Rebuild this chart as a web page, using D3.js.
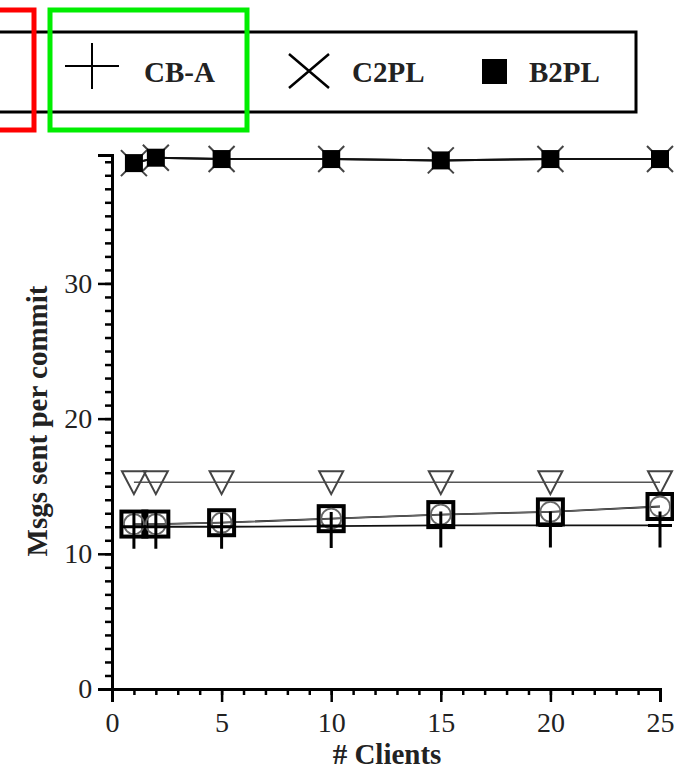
<!DOCTYPE html>
<html><head><meta charset="utf-8">
<script src="https://cdn.jsdelivr.net/npm/d3@7"></script>
<style>body{margin:0;background:#fff}svg{display:block}</style>
</head><body>
<script>
// ---- data ----
const clients = [1, 2, 5, 10, 15, 20, 25];
const b2pl = [38.9, 39.3, 39.2, 39.2, 39.1, 39.2, 39.2];
const c2pl = [38.9, 39.3, 39.2, 39.2, 39.1, 39.2, 39.2];
const triSeries = [15.3, 15.3, 15.3, 15.3, 15.3, 15.3, 15.3];
const squareSeries = [12.2, 12.2, 12.3, 12.6, 12.9, 13.1, 13.5];
const circleSeries = [12.2, 12.2, 12.3, 12.6, 12.9, 13.1, 13.5];
const cbA = [12.0, 12.0, 12.0, 12.05, 12.1, 12.1, 12.1];
const xTicks = [0, 5, 10, 15, 20, 25];
const yTicks = [0, 10, 20, 30];
const legendLabels = ["CB-A", "C2PL", "B2PL"];

const W = 674, H = 773;
const svg = d3.select("body").append("svg").attr("width", W).attr("height", H);
const x = d3.scaleLinear().domain([0, 25]).range([112, 660]);
const y = d3.scaleLinear().domain([0, 39.5]).range([689, 155]);
const font = "'Liberation Serif', 'Times New Roman', serif";

// ---- axes ----
const gx = svg.append("g").attr("transform", `translate(0,${y(0)})`).attr("font-family", font);
gx.call(d3.axisBottom(x).tickValues(d3.range(0, 26)).tickSize(6).tickFormat(""));
gx.call(g => g.append("g").call(d3.axisBottom(x).tickValues(xTicks).tickSize(13).tickFormat(d3.format("d"))));
const gy = svg.append("g").attr("transform", `translate(${x(0)},0)`).attr("font-family", font);
gy.call(d3.axisLeft(y).tickValues(d3.range(0, 40)).tickSize(7).tickFormat(""));
gy.call(g => g.append("g").call(d3.axisLeft(y).tickValues(yTicks).tickSize(14).tickFormat(d3.format("d"))));
svg.selectAll(".domain").attr("stroke", "#000").attr("stroke-width", 3);
svg.selectAll(".tick line").attr("stroke", "#000").attr("stroke-width", 2.5);
svg.selectAll("g").attr("font-family", font);
svg.selectAll(".tick text").attr("font-family", font).attr("font-size", 28).attr("fill", "#222");
gx.selectAll(".tick text").attr("dy", "0.95em");
gy.selectAll(".tick text").attr("dx", "-0.1em");

svg.append("text").attr("x", 387).attr("y", 764).attr("text-anchor", "middle")
  .attr("font-family", font).attr("font-weight", "bold").attr("font-size", 29).attr("fill", "#222")
  .text("# Clients");
svg.append("text").attr("transform", "translate(47,421) rotate(-90)").attr("text-anchor", "middle")
  .attr("font-family", font).attr("font-weight", "bold").attr("font-size", 29).attr("fill", "#222")
  .text("Msgs sent per commit");

// ---- lines ----
const line = d3.line().x(d => x(d[0])).y(d => y(d[1]));
const pts = arr => clients.map((c, i) => [c, arr[i]]);
svg.append("path").attr("d", line(pts(triSeries))).attr("fill", "none").attr("stroke", "#555").attr("stroke-width", 1.5);
svg.append("path").attr("d", line(pts(cbA))).attr("fill", "none").attr("stroke", "#111").attr("stroke-width", 1.8);
svg.append("path").attr("d", line(pts(squareSeries))).attr("fill", "none").attr("stroke", "#111").attr("stroke-width", 1.8);
svg.append("path").attr("d", line(pts(circleSeries))).attr("fill", "none").attr("stroke", "#666").attr("stroke-width", 1.2);
svg.append("path").attr("d", line(pts(c2pl))).attr("fill", "none").attr("stroke", "#111").attr("stroke-width", 2);
svg.append("path").attr("d", line(pts(b2pl))).attr("fill", "none").attr("stroke", "#111").attr("stroke-width", 2);

// ---- markers ----
const g = svg.append("g");
pts(triSeries).forEach(([cx, v]) => {
  const px = x(cx), py = y(v);
  g.append("path").attr("d", `M${px - 12},${py - 11}L${px + 12},${py - 11}L${px},${py + 12}Z`)
    .attr("fill", "none").attr("stroke", "#444").attr("stroke-width", 2);
});
pts(squareSeries).forEach(([cx, v]) => {
  g.append("rect").attr("x", x(cx) - 12.5).attr("y", y(v) - 12.5).attr("width", 25).attr("height", 25)
    .attr("fill", "none").attr("stroke", "#000").attr("stroke-width", 4);
});
pts(circleSeries).forEach(([cx, v]) => {
  g.append("circle").attr("cx", x(cx)).attr("cy", y(v)).attr("r", 10)
    .attr("fill", "none").attr("stroke", "#666").attr("stroke-width", 1.8);
});
pts(cbA).forEach(([cx, v]) => {
  const px = x(cx), py = y(v);
  g.append("path").attr("d", `M${px - 12},${py}L${px + 12},${py}M${px},${py - 14}L${px},${py + 22}`)
    .attr("fill", "none").attr("stroke", "#000").attr("stroke-width", 3);
});
pts(c2pl).forEach(([cx, v]) => {
  const px = x(cx), py = y(v);
  g.append("path").attr("d", `M${px - 13},${py - 13}L${px + 13},${py + 13}M${px - 13},${py + 13}L${px + 13},${py - 13}`)
    .attr("fill", "none").attr("stroke", "#444").attr("stroke-width", 2);
});
pts(b2pl).forEach(([cx, v]) => {
  g.append("rect").attr("x", x(cx) - 9).attr("y", y(v) - 9).attr("width", 18).attr("height", 18).attr("fill", "#000");
});

// ---- legend ----
const lg = svg.append("g");
lg.append("rect").attr("x", -10).attr("y", 32).attr("width", 646).attr("height", 80)
  .attr("fill", "#fff").attr("stroke", "#000").attr("stroke-width", 3);
lg.append("path").attr("d", "M65,66L119,66M92,43L92,89").attr("stroke", "#000").attr("stroke-width", 2);
lg.append("path").attr("d", "M289,54L329,88M289,88L329,54").attr("stroke", "#000").attr("stroke-width", 2.5);
lg.append("rect").attr("x", 482).attr("y", 59).attr("width", 25).attr("height", 25).attr("fill", "#000");
const lx = [144, 352, 529];
legendLabels.forEach((t, i) => {
  lg.append("text").attr("x", lx[i]).attr("y", 82).attr("font-family", font).attr("font-weight", "bold")
    .attr("font-size", 29).attr("fill", "#222").text(t);
});
// annotation boxes
svg.append("rect").attr("x", -20).attr("y", 10).attr("width", 54).attr("height", 120)
  .attr("fill", "none").attr("stroke", "#ff0000").attr("stroke-width", 5);
svg.append("rect").attr("x", 50).attr("y", 10).attr("width", 197).attr("height", 120)
  .attr("fill", "none").attr("stroke", "#00ee00").attr("stroke-width", 5);
</script>
</body></html>
